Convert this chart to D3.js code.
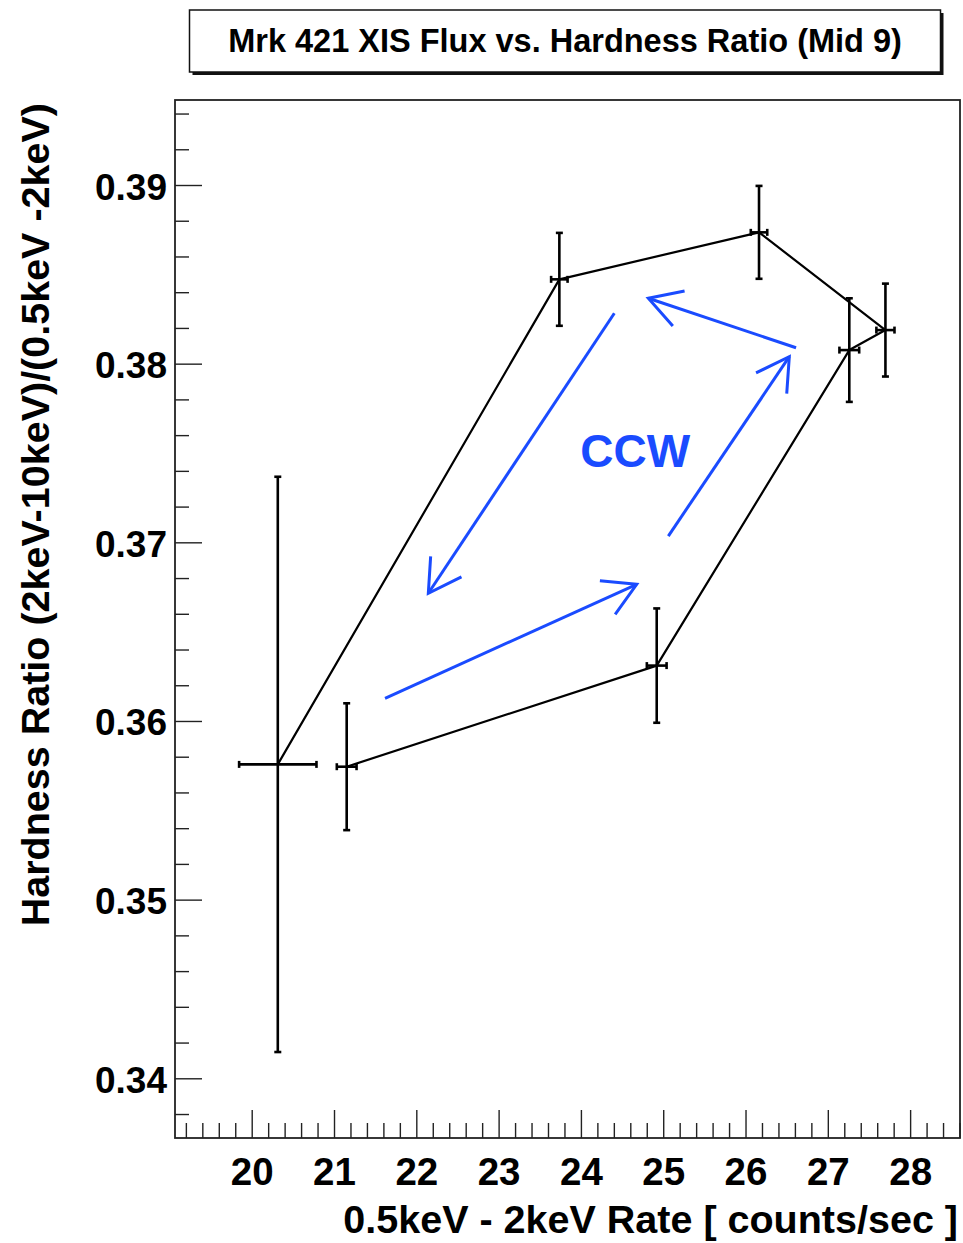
<!DOCTYPE html>
<html>
<head>
<meta charset="utf-8">
<script src="https://cdn.jsdelivr.net/npm/d3@7"></script>
<style>
  html, body { margin: 0; padding: 0; background: #fff; }
  svg { display: block; font-family: "Liberation Sans", Arial, Helvetica, sans-serif; }
</style>
</head>
<body>
<svg id="chart" width="963" height="1243"></svg>
<script>
// Observations in plotting order (time sequence of the loop)
const rate      = [21.154, 24.921, 27.261, 27.700, 26.164, 23.738, 20.317];
const rateErr   = [0.12,   0.12,   0.12,   0.11,   0.10,   0.10,   0.47];
const hardness  = [0.35744, 0.36310, 0.38076, 0.38188, 0.38735, 0.38472, 0.35757];
const hardErr   = [0.00355, 0.00320, 0.00290, 0.00260, 0.00260, 0.00260, 0.01610];

// Axis ranges and tick labels
const xRange = [19.068, 28.606];
const yRange = [0.336658, 0.394758];
const xMajor = [20, 21, 22, 23, 24, 25, 26, 27, 28];
const yMajor = [0.34, 0.35, 0.36, 0.37, 0.38, 0.39];
const xMinorStep = 0.2;
const yMinorStep = 0.002;

// Direction-of-evolution arrows, [x0, y0, x1, y1] in data units (tip at x1, y1)
const arrowsData = [
  [21.620, 0.36127, 24.678, 0.36765],
  [25.062, 0.37035, 26.532, 0.38039],
  [26.614, 0.38089, 24.819, 0.38366],
  [24.406, 0.38282, 22.146, 0.36715]
];
const loopLabel = { text: "CCW", x: 24.66, y: 0.37423 };

const titleText = "Mrk 421 XIS Flux vs. Hardness Ratio (Mid 9)";
const xTitle = "0.5keV - 2keV Rate [ counts/sec ]";
const yTitle = "Hardness Ratio (2keV-10keV)/(0.5keV -2keV)";

const svg = d3.select("#chart");
const frame = { left: 175, right: 960, top: 100, bottom: 1138 };
const x = d3.scaleLinear().domain(xRange).range([frame.left, frame.right]);
const y = d3.scaleLinear().domain(yRange).range([frame.bottom, frame.top]);

const axisColor = "#222";
const blue = "#1a4bff";

// Title pave with drop shadow
const box = { x: 189.5, y: 10, w: 751, h: 62 };
svg.append("rect").attr("x", box.x + 3).attr("y", box.y + 3).attr("width", box.w).attr("height", box.h)
  .attr("fill", "#111");
svg.append("rect").attr("x", box.x).attr("y", box.y).attr("width", box.w).attr("height", box.h)
  .attr("fill", "#fff").attr("stroke", "#111").attr("stroke-width", 1.5);
svg.append("text").attr("x", box.x + box.w / 2).attr("y", 52)
  .attr("text-anchor", "middle").attr("font-weight", "bold").attr("font-size", 32.5)
  .attr("fill", "#000").text(titleText);

// Minor ticks
const xMinor = d3.range(Math.ceil(xRange[0] / xMinorStep), Math.floor(xRange[1] / xMinorStep) + 1)
  .map(i => +(i * xMinorStep).toFixed(4)).filter(v => !xMajor.some(m => Math.abs(m - v) < 1e-6));
const yMinor = d3.range(Math.ceil(yRange[0] / yMinorStep), Math.floor(yRange[1] / yMinorStep) + 1)
  .map(i => +(i * yMinorStep).toFixed(5)).filter(v => !yMajor.some(m => Math.abs(m - v) < 1e-7));

const gx = svg.append("g").attr("transform", `translate(0,${frame.bottom})`);
gx.append("g").call(d3.axisBottom(x).tickValues(xMinor).tickSize(-15).tickFormat(""));
gx.append("g").call(d3.axisBottom(x).tickValues(xMajor).tickSize(-28).tickFormat(d3.format("d")));
gx.selectAll(".domain").remove();
gx.selectAll("line").attr("stroke", axisColor).attr("stroke-width", 1.4);
gx.selectAll("text").attr("y", 47).attr("dy", null)
  .attr("font-size", 38.5).attr("font-weight", "bold").attr("fill", "#000")
  .attr("font-family", "Liberation Sans, Arial, sans-serif");

const gy = svg.append("g").attr("transform", `translate(${frame.left},0)`);
gy.append("g").call(d3.axisLeft(y).tickValues(yMinor).tickSize(-14).tickFormat(""));
gy.append("g").call(d3.axisLeft(y).tickValues(yMajor).tickSize(-27).tickFormat(d3.format(".2f")));
gy.selectAll(".domain").remove();
gy.selectAll("line").attr("stroke", axisColor).attr("stroke-width", 1.4);
gy.selectAll("text").attr("x", -8).attr("dy", null).attr("y", 14)
  .attr("font-size", 37).attr("font-weight", "bold").attr("fill", "#000")
  .attr("font-family", "Liberation Sans, Arial, sans-serif");

// Frame
svg.append("rect").attr("x", frame.left).attr("y", frame.top)
  .attr("width", frame.right - frame.left).attr("height", frame.bottom - frame.top)
  .attr("fill", "none").attr("stroke", axisColor).attr("stroke-width", 1.8);

// Axis titles
svg.append("text").attr("x", 958).attr("y", 1233).attr("text-anchor", "end")
  .attr("font-size", 39.5).attr("font-weight", "bold").attr("fill", "#000").text(xTitle);
svg.append("text").attr("transform", "translate(49,103) rotate(-90)").attr("text-anchor", "end")
  .attr("font-size", 39.5).attr("font-weight", "bold").attr("fill", "#000").text(yTitle);

// Data
const pts = rate.map((r, i) => ({ x: r, y: hardness[i], ex: rateErr[i], ey: hardErr[i] }));
const plot = svg.append("g");

plot.append("path").datum(pts)
  .attr("d", d3.line().x(d => x(d.x)).y(d => y(d.y)))
  .attr("fill", "none").attr("stroke", "#000").attr("stroke-width", 2.2).attr("stroke-linejoin", "round");

const eb = plot.selectAll("g.err").data(pts).join("g").attr("class", "err")
  .attr("stroke", "#000").attr("stroke-width", 2.6);
eb.append("line").attr("x1", d => x(d.x)).attr("x2", d => x(d.x))
  .attr("y1", d => y(d.y - d.ey)).attr("y2", d => y(d.y + d.ey));
eb.append("line").attr("x1", d => x(d.x - d.ex)).attr("x2", d => x(d.x + d.ex))
  .attr("y1", d => y(d.y)).attr("y2", d => y(d.y));
// end caps
const cap = 3.5;
eb.append("line").attr("x1", d => x(d.x) - cap).attr("x2", d => x(d.x) + cap)
  .attr("y1", d => y(d.y + d.ey)).attr("y2", d => y(d.y + d.ey));
eb.append("line").attr("x1", d => x(d.x) - cap).attr("x2", d => x(d.x) + cap)
  .attr("y1", d => y(d.y - d.ey)).attr("y2", d => y(d.y - d.ey));
eb.append("line").attr("x1", d => x(d.x - d.ex)).attr("x2", d => x(d.x - d.ex))
  .attr("y1", d => y(d.y) - cap).attr("y2", d => y(d.y) + cap);
eb.append("line").attr("x1", d => x(d.x + d.ex)).attr("x2", d => x(d.x + d.ex))
  .attr("y1", d => y(d.y) - cap).attr("y2", d => y(d.y) + cap);

// Arrows with open heads
const headLen = 37, headAng = Math.PI / 6;
const ag = svg.append("g").attr("stroke", blue).attr("stroke-width", 3).attr("fill", "none")
  .attr("stroke-linecap", "butt");
arrowsData.forEach(a => {
  const x0 = x(a[0]), y0 = y(a[1]), x1 = x(a[2]), y1 = y(a[3]);
  const ang = Math.atan2(y0 - y1, x0 - x1);
  ag.append("line").attr("x1", x0).attr("y1", y0).attr("x2", x1).attr("y2", y1);
  const p1 = [x1 + headLen * Math.cos(ang + headAng), y1 + headLen * Math.sin(ang + headAng)];
  const p2 = [x1 + headLen * Math.cos(ang - headAng), y1 + headLen * Math.sin(ang - headAng)];
  ag.append("path").attr("d", `M${p1[0]},${p1[1]}L${x1},${y1}L${p2[0]},${p2[1]}`)
    .attr("stroke-linejoin", "miter");
});

svg.append("text").attr("x", x(loopLabel.x)).attr("y", y(loopLabel.y))
  .attr("text-anchor", "middle").attr("font-size", 46).attr("font-weight", "bold")
  .attr("fill", blue).text(loopLabel.text);
</script>
</body>
</html>
